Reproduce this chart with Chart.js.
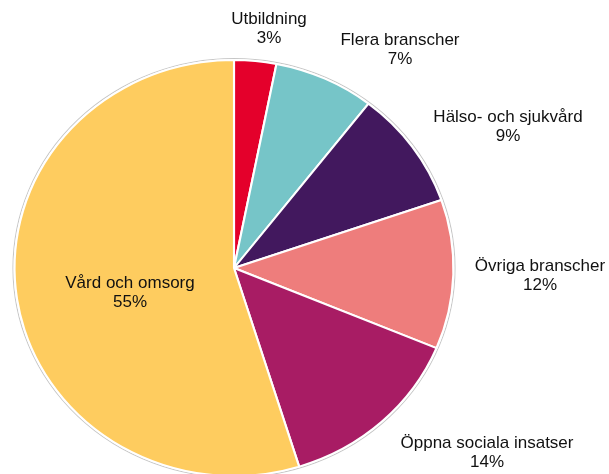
<!DOCTYPE html>
<html>
<head>
<meta charset="utf-8">
<script src="https://cdn.jsdelivr.net/npm/chart.js@4.4.0/dist/chart.umd.min.js"></script>
<style>
  html, body { margin: 0; padding: 0; background: #fff; overflow: hidden; }
  #wrap { width: 609px; height: 500px; }
</style>
</head>
<body>
<div id="wrap"><canvas id="branscher"></canvas></div>
<script>
// data, clockwise from 12 o'clock (percent, labels show rounded values)
const categories = ['Utbildning', 'Flera branscher', 'Hälso- och sjukvård', 'Övriga branscher', 'Öppna sociala insatser', 'Vård och omsorg'];
const shares = [3.1, 7.4, 9.2, 11.6, 13.9, 54.8];
const colors = ['#E4002B', '#76C5C8', '#42185E', '#EE7D7C', '#A81C64', '#FECC5F'];

// label anchors relative to the pie centre (px)
const labelOffsets = [[35, -239], [166, -218], [274, -141], [306, 8], [253, 185], [-104, 25]];
const stretchX = 1.055;

const ellipse = {
    id: 'ellipse',
    beforeDatasetsDraw(chart) {
        const arc = chart.getDatasetMeta(0).data[0];
        const c = chart.ctx;
        c.save();
        c.translate(arc.x, arc.y);
        c.scale(stretchX, 1);
        c.translate(-arc.x, -arc.y);
        // faint outline round the pie
        c.beginPath();
        c.arc(arc.x, arc.y, arc.outerRadius + 1.5, 0, Math.PI * 2);
        c.strokeStyle = 'rgba(160,160,160,0.6)';
        c.lineWidth = 1;
        c.stroke();
    },
    afterDatasetsDraw(chart) {
        chart.ctx.restore();
    }
};

const sliceLabels = {
    id: 'sliceLabels',
    afterDraw(chart) {
        const arc = chart.getDatasetMeta(0).data[0];
        const c = chart.ctx;
        c.save();
        c.font = '17px "Liberation Sans", Arial, sans-serif';
        c.fillStyle = '#111111';
        c.textAlign = 'center';
        c.textBaseline = 'middle';
        categories.forEach((name, i) => {
            const x = arc.x + labelOffsets[i][0];
            const y = arc.y + labelOffsets[i][1];
            c.fillText(name, x, y - 9.5);
            c.fillText(Math.round(shares[i]) + '%', x, y + 9.5);
        });
        c.restore();
    }
};

const ctx = document.getElementById('branscher').getContext('2d');
const chart = new Chart(ctx, {
    type: 'pie',
    data: {
        labels: categories,
        datasets: [{
            data: shares,
            backgroundColor: colors,
            borderColor: '#ffffff',
            borderWidth: 2
        }]
    },
    options: {
        responsive: true,
        maintainAspectRatio: false,
        animation: false,
        layout: {
            padding: { left: 25, right: 166, top: 59, bottom: 23 }
        },
        plugins: {
            legend: { display: false },
            tooltip: { enabled: false }
        }
    },
    plugins: [ellipse, sliceLabels]
});
</script>
</body>
</html>
